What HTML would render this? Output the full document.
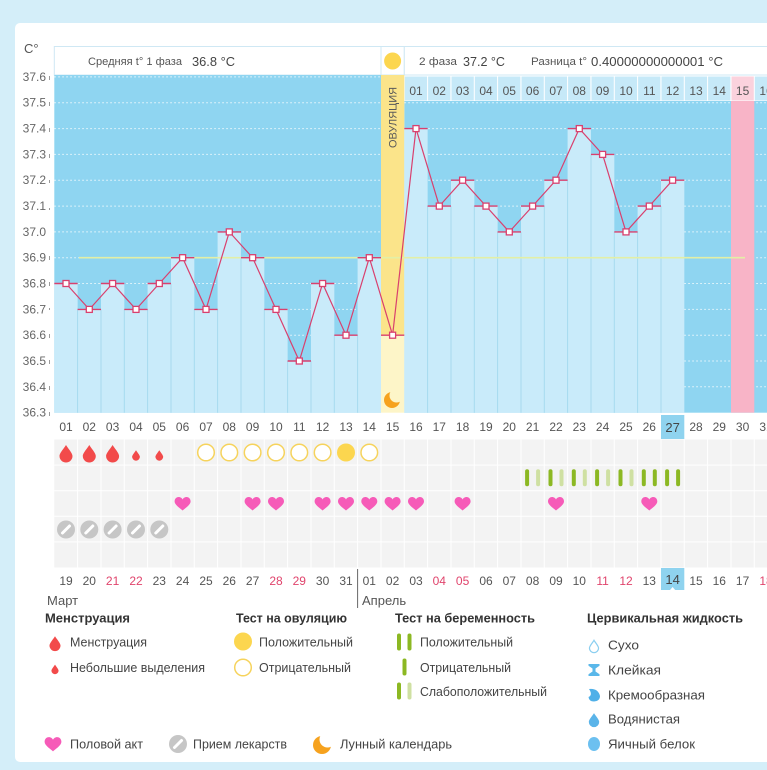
<!DOCTYPE html>
<html><head><meta charset="utf-8">
<style>
html,body{margin:0;padding:0;background:#d4eef9;}
svg{display:block;}
</style></head>
<body>
<svg width="767" height="770" viewBox="0 0 767 770" xmlns="http://www.w3.org/2000/svg" font-family="'Liberation Sans','DejaVu Sans',sans-serif">
<defs>
<path id="drop" d="M0,-8 C-1,-6 -6.5,0 -6.5,3 A6.5,6.5 0 0 0 6.5,3 C6.5,0 1,-6 0,-8Z"/>
<path id="heart" d="M0,6.5 C-2,4.5 -8,1 -8,-2.5 C-8,-5.5 -5.8,-7 -4,-7 C-2,-7 -0.6,-5.8 0,-4.5 C0.6,-5.8 2,-7 4,-7 C5.8,-7 8,-5.5 8,-2.5 C8,1 2,4.5 0,6.5Z"/>
<g id="pill"><circle r="9" fill="#c6c6c6"/><line x1="-3.5" y1="3.5" x2="3.5" y2="-3.5" stroke="#fff" stroke-width="3" stroke-linecap="round"/></g>
<circle id="ovneg" r="8.3" fill="#fff" stroke="#f6d35c" stroke-width="1.5"/>
<circle id="ovpos" r="9" fill="#fcd64f"/>
<rect id="gd" x="-2" y="-8.5" width="4" height="17" rx="2" fill="#8cb823"/>
<rect id="gl" x="-2" y="-8.5" width="4" height="17" rx="2" fill="#cfe0a2"/>
</defs>

<!-- background -->
<rect x="0" y="0" width="767" height="770" fill="#d4eef9"/>
<rect x="15" y="23" width="780" height="739" rx="5" fill="#ffffff"/>

<!-- Y axis -->
<text x="24" y="53" font-size="13" fill="#555">C°</text>
<g font-size="12" fill="#666" text-anchor="end">
<text x="46" y="81">37.6</text>
<text x="46" y="106.7">37.5</text>
<text x="46" y="132.6">37.4</text>
<text x="46" y="158.4">37.3</text>
<text x="46" y="184.2">37.2</text>
<text x="46" y="210.1">37.1</text>
<text x="46" y="235.9">37.0</text>
<text x="46" y="261.7">36.9</text>
<text x="46" y="287.5">36.8</text>
<text x="46" y="313.4">36.7</text>
<text x="46" y="339.2">36.6</text>
<text x="46" y="365">36.5</text>
<text x="46" y="390.8">36.4</text>
<text x="46" y="416.7">36.3</text>
</g>
<g stroke="#9a9a9a" stroke-width="1">
<line x1="49.5" y1="76" x2="49.5" y2="80"/>
<line x1="49.5" y1="102" x2="49.5" y2="106"/>
<line x1="49.5" y1="128" x2="49.5" y2="132"/>
<line x1="49.5" y1="154" x2="49.5" y2="158"/>
<line x1="49.5" y1="180" x2="49.5" y2="183"/>
<line x1="49.5" y1="208" x2="49.5" y2="210"/>
<line x1="49.5" y1="256" x2="49.5" y2="260"/>
<line x1="49.5" y1="282" x2="49.5" y2="286"/>
<line x1="49.5" y1="308" x2="49.5" y2="310"/>
<line x1="49.5" y1="334" x2="49.5" y2="338"/>
<line x1="49.5" y1="360" x2="49.5" y2="364"/>
<line x1="49.5" y1="386" x2="49.5" y2="390"/>
<line x1="49.5" y1="412" x2="49.5" y2="416"/>
</g>

<!-- header -->
<rect x="54.3" y="46.5" width="326.7" height="28.5" fill="#fff" stroke="#cfe8f4"/>
<rect x="381" y="46.5" width="23.3" height="28.5" fill="#fff" stroke="#cfe8f4"/>
<rect x="404.3" y="46.5" width="380" height="28.5" fill="#fff" stroke="#cfe8f4"/>
<circle cx="392.6" cy="61" r="8.5" fill="#fcd64f"/>
<text x="88" y="65" font-size="11" fill="#555" textLength="94" lengthAdjust="spacingAndGlyphs">Средняя t° 1 фаза</text>
<text x="192" y="66" font-size="13" fill="#444" textLength="43" lengthAdjust="spacingAndGlyphs">36.8 °C</text>
<text x="419" y="65" font-size="11" fill="#555" textLength="38" lengthAdjust="spacingAndGlyphs">2 фаза</text>
<text x="463" y="66" font-size="13" fill="#444" textLength="42" lengthAdjust="spacingAndGlyphs">37.2 °C</text>
<text x="531" y="65" font-size="11" fill="#555" textLength="56" lengthAdjust="spacingAndGlyphs">Разница t°</text>
<text x="591" y="66" font-size="13" fill="#444" textLength="132" lengthAdjust="spacingAndGlyphs">0.40000000000001 °C</text>

<!-- plot backgrounds -->
<rect x="54.3" y="75" width="326.7" height="337.7" fill="#8fd5f1"/>
<rect x="404.3" y="101" width="363" height="311.7" fill="#8fd5f1"/>

<!-- right phase day labels row -->
<g fill="#c6e9f8">
<rect x="404.8" y="76.5" width="22.3" height="24"/>
<rect x="428.1" y="76.5" width="22.3" height="24"/>
<rect x="451.5" y="76.5" width="22.3" height="24"/>
<rect x="474.8" y="76.5" width="22.3" height="24"/>
<rect x="498.1" y="76.5" width="22.3" height="24"/>
<rect x="521.5" y="76.5" width="22.3" height="24"/>
<rect x="544.8" y="76.5" width="22.3" height="24"/>
<rect x="568.1" y="76.5" width="22.3" height="24"/>
<rect x="591.5" y="76.5" width="22.3" height="24"/>
<rect x="614.8" y="76.5" width="22.3" height="24"/>
<rect x="638.1" y="76.5" width="22.3" height="24"/>
<rect x="661.5" y="76.5" width="22.3" height="24"/>
<rect x="684.8" y="76.5" width="22.3" height="24"/>
<rect x="708.1" y="76.5" width="22.3" height="24"/>
<rect x="754.8" y="76.5" width="22.3" height="24"/>
</g>
<rect x="731.5" y="76.5" width="22.3" height="24" fill="#fbd2dd"/>
<g font-size="12" fill="#555" text-anchor="middle">
<text x="416" y="95">01</text>
<text x="439.3" y="95">02</text>
<text x="462.6" y="95">03</text>
<text x="486" y="95">04</text>
<text x="509.3" y="95">05</text>
<text x="532.6" y="95">06</text>
<text x="556" y="95">07</text>
<text x="579.3" y="95">08</text>
<text x="602.6" y="95">09</text>
<text x="626" y="95">10</text>
<text x="649.3" y="95">11</text>
<text x="672.6" y="95">12</text>
<text x="696" y="95">13</text>
<text x="719.3" y="95">14</text>
<text x="742.6" y="95">15</text>
<text x="766" y="95">16</text>
</g>

<!-- dotted grid lines -->
<g stroke="#ffffff" stroke-width="1" stroke-dasharray="1.5 2.5" opacity="0.85">
<line x1="54.3" y1="76.9" x2="381" y2="76.9"/>
<line x1="54.3" y1="102.7" x2="381" y2="102.7"/>
<line x1="54.3" y1="128.6" x2="381" y2="128.6"/>
<line x1="54.3" y1="154.4" x2="381" y2="154.4"/>
<line x1="54.3" y1="180.2" x2="381" y2="180.2"/>
<line x1="54.3" y1="206.1" x2="381" y2="206.1"/>
<line x1="54.3" y1="231.9" x2="381" y2="231.9"/>
<line x1="54.3" y1="257.7" x2="381" y2="257.7"/>
<line x1="54.3" y1="283.5" x2="381" y2="283.5"/>
<line x1="54.3" y1="309.4" x2="381" y2="309.4"/>
<line x1="54.3" y1="335.2" x2="381" y2="335.2"/>
<line x1="54.3" y1="361" x2="381" y2="361"/>
<line x1="54.3" y1="386.8" x2="381" y2="386.8"/>
<line x1="404.3" y1="102.7" x2="767" y2="102.7"/>
<line x1="404.3" y1="128.6" x2="767" y2="128.6"/>
<line x1="404.3" y1="154.4" x2="767" y2="154.4"/>
<line x1="404.3" y1="180.2" x2="767" y2="180.2"/>
<line x1="404.3" y1="206.1" x2="767" y2="206.1"/>
<line x1="404.3" y1="231.9" x2="767" y2="231.9"/>
<line x1="404.3" y1="257.7" x2="767" y2="257.7"/>
<line x1="404.3" y1="283.5" x2="767" y2="283.5"/>
<line x1="404.3" y1="309.4" x2="767" y2="309.4"/>
<line x1="404.3" y1="335.2" x2="767" y2="335.2"/>
<line x1="404.3" y1="361" x2="767" y2="361"/>
<line x1="404.3" y1="386.8" x2="767" y2="386.8"/>
</g>

<!-- pink column (day 30) -->
<rect x="731" y="101" width="23.3" height="311.7" fill="#f8b4c7"/>

<!-- ovulation column -->
<rect x="381" y="75" width="23.3" height="260.2" fill="#fbe48a"/>
<rect x="381" y="335.2" width="23.3" height="77.5" fill="#fdf5c8"/>
<text transform="translate(396.6,117.5) rotate(-90)" text-anchor="middle" font-size="11" fill="#5a5a5a" textLength="61" lengthAdjust="spacingAndGlyphs">ОВУЛЯЦИЯ</text>
<circle cx="392" cy="400" r="8" fill="#f6a21e"/>
<circle cx="396.5" cy="395.5" r="7" fill="#fdf5c8"/>

<!-- bars -->
<g fill="#c9ebfa">
<rect x="54.3" y="283.5" width="23.33" height="129.2"/>
<rect x="77.6" y="309.4" width="23.33" height="103.3"/>
<rect x="101" y="283.5" width="23.33" height="129.2"/>
<rect x="124.3" y="309.4" width="23.33" height="103.3"/>
<rect x="147.6" y="283.5" width="23.33" height="129.2"/>
<rect x="171" y="257.7" width="23.33" height="155"/>
<rect x="194.3" y="309.4" width="23.33" height="103.3"/>
<rect x="217.6" y="231.9" width="23.33" height="180.8"/>
<rect x="241" y="257.7" width="23.33" height="155"/>
<rect x="264.3" y="309.4" width="23.33" height="103.3"/>
<rect x="287.6" y="361" width="23.33" height="51.7"/>
<rect x="311" y="283.5" width="23.33" height="129.2"/>
<rect x="334.3" y="335.2" width="23.33" height="77.5"/>
<rect x="357.6" y="257.7" width="23.4" height="155"/>
<rect x="404.3" y="128.6" width="23.33" height="284.1"/>
<rect x="427.6" y="206.1" width="23.33" height="206.6"/>
<rect x="451" y="180.2" width="23.33" height="232.5"/>
<rect x="474.3" y="206.1" width="23.33" height="206.6"/>
<rect x="497.6" y="231.9" width="23.33" height="180.8"/>
<rect x="521" y="206.1" width="23.33" height="206.6"/>
<rect x="544.3" y="180.2" width="23.33" height="232.5"/>
<rect x="567.6" y="128.6" width="23.33" height="284.1"/>
<rect x="591" y="154.4" width="23.33" height="258.3"/>
<rect x="614.3" y="231.9" width="23.33" height="180.8"/>
<rect x="637.6" y="206.1" width="23.33" height="206.6"/>
<rect x="661" y="180.2" width="23.33" height="232.5"/>
</g>
<!-- bar separators -->
<g stroke="#a6daef" stroke-width="1">
<line x1="77.6" y1="309.4" x2="77.6" y2="412.7"/>
<line x1="101" y1="309.4" x2="101" y2="412.7"/>
<line x1="124.3" y1="309.4" x2="124.3" y2="412.7"/>
<line x1="147.6" y1="309.4" x2="147.6" y2="412.7"/>
<line x1="171" y1="283.5" x2="171" y2="412.7"/>
<line x1="194.3" y1="309.4" x2="194.3" y2="412.7"/>
<line x1="217.6" y1="309.4" x2="217.6" y2="412.7"/>
<line x1="241" y1="257.7" x2="241" y2="412.7"/>
<line x1="264.3" y1="309.4" x2="264.3" y2="412.7"/>
<line x1="287.6" y1="361" x2="287.6" y2="412.7"/>
<line x1="311" y1="361" x2="311" y2="412.7"/>
<line x1="334.3" y1="335.2" x2="334.3" y2="412.7"/>
<line x1="357.6" y1="335.2" x2="357.6" y2="412.7"/>
<line x1="427.6" y1="206.1" x2="427.6" y2="412.7"/>
<line x1="451" y1="206.1" x2="451" y2="412.7"/>
<line x1="474.3" y1="206.1" x2="474.3" y2="412.7"/>
<line x1="497.6" y1="231.9" x2="497.6" y2="412.7"/>
<line x1="521" y1="231.9" x2="521" y2="412.7"/>
<line x1="544.3" y1="206.1" x2="544.3" y2="412.7"/>
<line x1="567.6" y1="180.2" x2="567.6" y2="412.7"/>
<line x1="591" y1="154.4" x2="591" y2="412.7"/>
<line x1="614.3" y1="231.9" x2="614.3" y2="412.7"/>
<line x1="637.6" y1="231.9" x2="637.6" y2="412.7"/>
<line x1="661" y1="206.1" x2="661" y2="412.7"/>
</g>

<!-- coverline -->
<line x1="79" y1="257.7" x2="745" y2="257.7" stroke="#e3efa6" stroke-width="1.6"/>

<!-- temperature caps -->
<g stroke="#d9406e" stroke-width="1.4">
<line x1="54.3" y1="283.5" x2="77.6" y2="283.5"/>
<line x1="77.6" y1="309.4" x2="101" y2="309.4"/>
<line x1="101" y1="283.5" x2="124.3" y2="283.5"/>
<line x1="124.3" y1="309.4" x2="147.6" y2="309.4"/>
<line x1="147.6" y1="283.5" x2="171" y2="283.5"/>
<line x1="171" y1="257.7" x2="194.3" y2="257.7"/>
<line x1="194.3" y1="309.4" x2="217.6" y2="309.4"/>
<line x1="217.6" y1="231.9" x2="241" y2="231.9"/>
<line x1="241" y1="257.7" x2="264.3" y2="257.7"/>
<line x1="264.3" y1="309.4" x2="287.6" y2="309.4"/>
<line x1="287.6" y1="361" x2="311" y2="361"/>
<line x1="311" y1="283.5" x2="334.3" y2="283.5"/>
<line x1="334.3" y1="335.2" x2="357.6" y2="335.2"/>
<line x1="357.6" y1="257.7" x2="381" y2="257.7"/>
<line x1="381" y1="335.2" x2="404.3" y2="335.2"/>
<line x1="404.3" y1="128.6" x2="427.6" y2="128.6"/>
<line x1="427.6" y1="206.1" x2="451" y2="206.1"/>
<line x1="451" y1="180.2" x2="474.3" y2="180.2"/>
<line x1="474.3" y1="206.1" x2="497.6" y2="206.1"/>
<line x1="497.6" y1="231.9" x2="521" y2="231.9"/>
<line x1="521" y1="206.1" x2="544.3" y2="206.1"/>
<line x1="544.3" y1="180.2" x2="567.6" y2="180.2"/>
<line x1="567.6" y1="128.6" x2="591" y2="128.6"/>
<line x1="591" y1="154.4" x2="614.3" y2="154.4"/>
<line x1="614.3" y1="231.9" x2="637.6" y2="231.9"/>
<line x1="637.6" y1="206.1" x2="661" y2="206.1"/>
<line x1="661" y1="180.2" x2="684.3" y2="180.2"/>
</g>
<polyline fill="none" stroke="#d9406e" stroke-width="1.2" points="66,283.5 89.3,309.4 112.6,283.5 136,309.4 159.3,283.5 182.6,257.7 206,309.4 229.3,231.9 252.6,257.7 276,309.4 299.3,361 322.6,283.5 346,335.2 369.3,257.7 392.6,335.2 416,128.6 439.3,206.1 462.6,180.2 486,206.1 509.3,231.9 532.6,206.1 556,180.2 579.3,128.6 602.6,154.4 626,231.9 649.3,206.1 672.6,180.2"/>
<g fill="#fff" stroke="#d9406e" stroke-width="1.3">
<rect x="63" y="280.5" width="6" height="6"/>
<rect x="86.3" y="306.4" width="6" height="6"/>
<rect x="109.6" y="280.5" width="6" height="6"/>
<rect x="133" y="306.4" width="6" height="6"/>
<rect x="156.3" y="280.5" width="6" height="6"/>
<rect x="179.6" y="254.7" width="6" height="6"/>
<rect x="203" y="306.4" width="6" height="6"/>
<rect x="226.3" y="228.9" width="6" height="6"/>
<rect x="249.6" y="254.7" width="6" height="6"/>
<rect x="273" y="306.4" width="6" height="6"/>
<rect x="296.3" y="358" width="6" height="6"/>
<rect x="319.6" y="280.5" width="6" height="6"/>
<rect x="343" y="332.2" width="6" height="6"/>
<rect x="366.3" y="254.7" width="6" height="6"/>
<rect x="389.6" y="332.2" width="6" height="6"/>
<rect x="413" y="125.6" width="6" height="6"/>
<rect x="436.3" y="203.1" width="6" height="6"/>
<rect x="459.6" y="177.2" width="6" height="6"/>
<rect x="483" y="203.1" width="6" height="6"/>
<rect x="506.3" y="228.9" width="6" height="6"/>
<rect x="529.6" y="203.1" width="6" height="6"/>
<rect x="553" y="177.2" width="6" height="6"/>
<rect x="576.3" y="125.6" width="6" height="6"/>
<rect x="599.6" y="151.4" width="6" height="6"/>
<rect x="623" y="228.9" width="6" height="6"/>
<rect x="646.3" y="203.1" width="6" height="6"/>
<rect x="669.6" y="177.2" width="6" height="6"/>
</g>

<!-- cycle day row -->
<rect x="661" y="415" width="23.3" height="24" fill="#8fd3ef"/>
<g font-size="12" fill="#555" text-anchor="middle">
<text x="66" y="431">01</text>
<text x="89.3" y="431">02</text>
<text x="112.6" y="431">03</text>
<text x="136" y="431">04</text>
<text x="159.3" y="431">05</text>
<text x="182.6" y="431">06</text>
<text x="206" y="431">07</text>
<text x="229.3" y="431">08</text>
<text x="252.6" y="431">09</text>
<text x="276" y="431">10</text>
<text x="299.3" y="431">11</text>
<text x="322.6" y="431">12</text>
<text x="346" y="431">13</text>
<text x="369.3" y="431">14</text>
<text x="392.6" y="431">15</text>
<text x="416" y="431">16</text>
<text x="439.3" y="431">17</text>
<text x="462.6" y="431">18</text>
<text x="486" y="431">19</text>
<text x="509.3" y="431">20</text>
<text x="532.6" y="431">21</text>
<text x="556" y="431">22</text>
<text x="579.3" y="431">23</text>
<text x="602.6" y="431">24</text>
<text x="626" y="431">25</text>
<text x="649.3" y="431">26</text>
<text x="672.6" y="432" font-size="13" fill="#444">27</text>
<text x="696" y="431">28</text>
<text x="719.3" y="431">29</text>
<text x="742.6" y="431">30</text>
<text x="766" y="431">31</text>
</g>

<!-- icon grid -->
<rect x="54.3" y="439.5" width="713" height="128" fill="#f3f3f3"/>
<g stroke="#ffffff" stroke-width="1">
<line x1="54.3" y1="465.1" x2="767" y2="465.1"/>
<line x1="54.3" y1="490.7" x2="767" y2="490.7"/>
<line x1="54.3" y1="516.3" x2="767" y2="516.3"/>
<line x1="54.3" y1="541.9" x2="767" y2="541.9"/>
<line x1="77.6" y1="439.5" x2="77.6" y2="567.5"/>
<line x1="101" y1="439.5" x2="101" y2="567.5"/>
<line x1="124.3" y1="439.5" x2="124.3" y2="567.5"/>
<line x1="147.6" y1="439.5" x2="147.6" y2="567.5"/>
<line x1="171" y1="439.5" x2="171" y2="567.5"/>
<line x1="194.3" y1="439.5" x2="194.3" y2="567.5"/>
<line x1="217.6" y1="439.5" x2="217.6" y2="567.5"/>
<line x1="241" y1="439.5" x2="241" y2="567.5"/>
<line x1="264.3" y1="439.5" x2="264.3" y2="567.5"/>
<line x1="287.6" y1="439.5" x2="287.6" y2="567.5"/>
<line x1="311" y1="439.5" x2="311" y2="567.5"/>
<line x1="334.3" y1="439.5" x2="334.3" y2="567.5"/>
<line x1="357.6" y1="439.5" x2="357.6" y2="567.5"/>
<line x1="381" y1="439.5" x2="381" y2="567.5"/>
<line x1="404.3" y1="439.5" x2="404.3" y2="567.5"/>
<line x1="427.6" y1="439.5" x2="427.6" y2="567.5"/>
<line x1="451" y1="439.5" x2="451" y2="567.5"/>
<line x1="474.3" y1="439.5" x2="474.3" y2="567.5"/>
<line x1="497.6" y1="439.5" x2="497.6" y2="567.5"/>
<line x1="521" y1="439.5" x2="521" y2="567.5"/>
<line x1="544.3" y1="439.5" x2="544.3" y2="567.5"/>
<line x1="567.6" y1="439.5" x2="567.6" y2="567.5"/>
<line x1="591" y1="439.5" x2="591" y2="567.5"/>
<line x1="614.3" y1="439.5" x2="614.3" y2="567.5"/>
<line x1="637.6" y1="439.5" x2="637.6" y2="567.5"/>
<line x1="661" y1="439.5" x2="661" y2="567.5"/>
<line x1="684.3" y1="439.5" x2="684.3" y2="567.5"/>
<line x1="707.6" y1="439.5" x2="707.6" y2="567.5"/>
<line x1="731" y1="439.5" x2="731" y2="567.5"/>
<line x1="754.3" y1="439.5" x2="754.3" y2="567.5"/>
</g>

<!-- row 1: menstruation + ovulation tests -->
<g fill="#f24a4a">
<use href="#drop" x="66" y="453"/>
<use href="#drop" x="89.3" y="453"/>
<use href="#drop" x="112.6" y="453"/>
<use href="#drop" transform="translate(136,455) scale(0.6)"/>
<use href="#drop" transform="translate(159.3,455) scale(0.6)"/>
</g>
<use href="#ovneg" x="206" y="452.5"/>
<use href="#ovneg" x="229.3" y="452.5"/>
<use href="#ovneg" x="252.6" y="452.5"/>
<use href="#ovneg" x="276" y="452.5"/>
<use href="#ovneg" x="299.3" y="452.5"/>
<use href="#ovneg" x="322.6" y="452.5"/>
<use href="#ovpos" x="346" y="452.5"/>
<use href="#ovneg" x="369.3" y="452.5"/>

<!-- row 2: pregnancy tests -->
<use href="#gd" x="527.1" y="477.8"/><use href="#gl" x="538.1" y="477.8"/>
<use href="#gd" x="550.5" y="477.8"/><use href="#gl" x="561.5" y="477.8"/>
<use href="#gd" x="573.8" y="477.8"/><use href="#gl" x="584.8" y="477.8"/>
<use href="#gd" x="597.1" y="477.8"/><use href="#gl" x="608.1" y="477.8"/>
<use href="#gd" x="620.5" y="477.8"/><use href="#gl" x="631.5" y="477.8"/>
<use href="#gd" x="643.8" y="477.8"/><use href="#gd" x="654.8" y="477.8"/>
<use href="#gd" x="667.1" y="477.8"/><use href="#gd" x="678.1" y="477.8"/>

<!-- row 3: hearts -->
<g fill="#f65bb8">
<use href="#heart" x="182.6" y="504"/>
<use href="#heart" x="252.6" y="504"/>
<use href="#heart" x="276" y="504"/>
<use href="#heart" x="322.6" y="504"/>
<use href="#heart" x="346" y="504"/>
<use href="#heart" x="369.3" y="504"/>
<use href="#heart" x="392.6" y="504"/>
<use href="#heart" x="416" y="504"/>
<use href="#heart" x="462.6" y="504"/>
<use href="#heart" x="556" y="504"/>
<use href="#heart" x="649.3" y="504"/>
</g>

<!-- row 4: pills -->
<use href="#pill" x="66" y="529.5"/>
<use href="#pill" x="89.3" y="529.5"/>
<use href="#pill" x="112.6" y="529.5"/>
<use href="#pill" x="136" y="529.5"/>
<use href="#pill" x="159.3" y="529.5"/>

<!-- date row -->
<rect x="661" y="568" width="23.3" height="22" fill="#8fd3ef"/>
<polygon points="669.6,590.5 672.6,587 675.6,590.5" fill="#fff"/>
<g font-size="12" fill="#555" text-anchor="middle">
<text x="66" y="585">19</text>
<text x="89.3" y="585">20</text>
<text x="112.6" y="585" fill="#e0446c">21</text>
<text x="136" y="585" fill="#e0446c">22</text>
<text x="159.3" y="585">23</text>
<text x="182.6" y="585">24</text>
<text x="206" y="585">25</text>
<text x="229.3" y="585">26</text>
<text x="252.6" y="585">27</text>
<text x="276" y="585" fill="#e0446c">28</text>
<text x="299.3" y="585" fill="#e0446c">29</text>
<text x="322.6" y="585">30</text>
<text x="346" y="585">31</text>
<text x="369.3" y="585">01</text>
<text x="392.6" y="585">02</text>
<text x="416" y="585">03</text>
<text x="439.3" y="585" fill="#e0446c">04</text>
<text x="462.6" y="585" fill="#e0446c">05</text>
<text x="486" y="585">06</text>
<text x="509.3" y="585">07</text>
<text x="532.6" y="585">08</text>
<text x="556" y="585">09</text>
<text x="579.3" y="585">10</text>
<text x="602.6" y="585" fill="#e0446c">11</text>
<text x="626" y="585" fill="#e0446c">12</text>
<text x="649.3" y="585">13</text>
<text x="672.6" y="584" font-size="13" fill="#444">14</text>
<text x="696" y="585">15</text>
<text x="719.3" y="585">16</text>
<text x="742.6" y="585">17</text>
<text x="766" y="585" fill="#e0446c">18</text>
</g>
<line x1="357.6" y1="569" x2="357.6" y2="608" stroke="#666" stroke-width="1"/>
<text x="47" y="605" font-size="13" fill="#555">Март</text>
<text x="362" y="605" font-size="13" fill="#555">Апрель</text>

<!-- legend titles -->
<g font-size="13" font-weight="bold" fill="#333">
<text x="45" y="622.5" textLength="85" lengthAdjust="spacingAndGlyphs">Менструация</text>
<text x="236" y="622.5" textLength="111" lengthAdjust="spacingAndGlyphs">Тест на овуляцию</text>
<text x="395" y="622.5" textLength="140" lengthAdjust="spacingAndGlyphs">Тест на беременность</text>
<text x="587" y="622.5" textLength="156" lengthAdjust="spacingAndGlyphs">Цервикальная жидкость</text>
</g>

<!-- legend items -->
<g font-size="12.5" fill="#444">
<text x="70" y="646.5" textLength="77" lengthAdjust="spacingAndGlyphs">Менструация</text>
<text x="70" y="672" textLength="135" lengthAdjust="spacingAndGlyphs">Небольшие выделения</text>
<text x="259" y="646.5" textLength="94" lengthAdjust="spacingAndGlyphs">Положительный</text>
<text x="259" y="672" textLength="92" lengthAdjust="spacingAndGlyphs">Отрицательный</text>
<text x="420" y="646.5" textLength="93" lengthAdjust="spacingAndGlyphs">Положительный</text>
<text x="420" y="672" textLength="91" lengthAdjust="spacingAndGlyphs">Отрицательный</text>
<text x="420" y="696" textLength="127" lengthAdjust="spacingAndGlyphs">Слабоположительный</text>
<text x="608" y="649.5" textLength="31" lengthAdjust="spacingAndGlyphs">Сухо</text>
<text x="608" y="674.5" textLength="53" lengthAdjust="spacingAndGlyphs">Клейкая</text>
<text x="608" y="699.5" textLength="97" lengthAdjust="spacingAndGlyphs">Кремообразная</text>
<text x="608" y="723.5" textLength="72" lengthAdjust="spacingAndGlyphs">Водянистая</text>
<text x="608" y="748.5" textLength="87" lengthAdjust="spacingAndGlyphs">Яичный белок</text>
<text x="70" y="748.5" textLength="73" lengthAdjust="spacingAndGlyphs">Половой акт</text>
<text x="193" y="748.5" textLength="94" lengthAdjust="spacingAndGlyphs">Прием лекарств</text>
<text x="340" y="748.5" textLength="112" lengthAdjust="spacingAndGlyphs">Лунный календарь</text>
</g>

<!-- legend icons -->
<g fill="#f24a4a">
<use href="#drop" transform="translate(55,643) scale(0.85)"/>
<use href="#drop" transform="translate(55,669) scale(0.55)"/>
</g>
<use href="#ovpos" x="243" y="641.5"/>
<use href="#ovneg" x="243" y="667.5"/>
<use href="#gd" x="399" y="642"/><use href="#gd" x="409.5" y="642"/>
<use href="#gd" x="404.5" y="667"/>
<use href="#gd" x="399" y="691"/><use href="#gl" x="409.5" y="691"/>
<!-- cervical -->
<use href="#drop" transform="translate(594,646) scale(0.7)" fill="#fff" stroke="#8ccff0" stroke-width="1.8"/>
<path d="M588.5,664 H599.5 V665.8 L595.5,668.5 V671.5 L599.5,674.2 V676 H588.5 V674.2 L592.5,671.5 V668.5 L588.5,665.8 Z" fill="#5ab8ea"/>
<path d="M589,689 Q598,688 600,696 Q600,701 594,701.5 Q589,701.5 588.5,697 Q593,695 589,689 Z" fill="#4fb0e8"/>
<use href="#drop" transform="translate(594,719.5) scale(0.8)" fill="#5ab4e9"/>
<ellipse cx="594" cy="744" rx="6" ry="7" fill="#6cc0f0"/>
<!-- bottom row icons -->
<use href="#heart" transform="translate(53,744.5) scale(1.05)" fill="#f65bb8"/>
<use href="#pill" x="178" y="744"/>
<circle cx="322" cy="745" r="9" fill="#f6a21e"/>
<circle cx="327.5" cy="739.5" r="8" fill="#ffffff"/>
</svg>
</body></html>
